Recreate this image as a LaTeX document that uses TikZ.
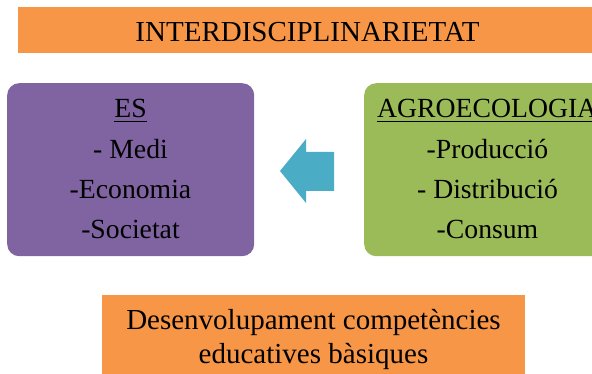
\documentclass[tikz,border=0pt]{standalone}
\usepackage{fontspec}
\setmainfont{Liberation Serif}
\definecolor{orng}{HTML}{F79646}
\definecolor{purp}{HTML}{8064A2}
\definecolor{grn}{HTML}{9BBB59}
\definecolor{blu}{HTML}{4BACC6}
\begin{document}
\begin{tikzpicture}[x=1pt,y=-1pt,
  txt/.style={inner sep=0pt, anchor=base, font=\fontsize{27.7}{33}\selectfont},
  big/.style={inner sep=0pt, anchor=base, font=\fontsize{29}{34}\selectfont},
  panel/.style={draw=none, inner sep=0pt, anchor=north west},
  uline/.style={line width=1.6pt, black}
]
\useasboundingbox (0,0) rectangle (592,374);
\clip (0,0) rectangle (592,374);
% boxes
\node[panel, fill=orng, minimum width=590pt, minimum height=46pt] (topbar) at (18,7) {};
\node[panel, fill=purp, rounded corners=12pt, minimum width=247pt, minimum height=173pt] (es) at (7,83) {};
\node[panel, fill=grn, rounded corners=12pt, minimum width=247pt, minimum height=173pt] (agro) at (364,83) {};
\node[panel, fill=orng, minimum width=423pt, minimum height=90pt] (bottom) at (102,295) {};
% arrow
\coordinate (tip) at (280,171);
\fill[blu] (tip) -- (306,139) -- (306,152) -- (334,152) -- (334,191) -- (306,191) -- (306,203) -- cycle;
% title
\node[big] (title) at (307.5,41.7) {INTERDISCIPLINARIETAT};
% ES text
\node[txt] (estitle) at (130.5,118) {ES};
\draw[uline] ([yshift=-3.6pt]estitle.base west) -- ([yshift=-3.6pt]estitle.base east);
\node[txt] (medi) at (130.5,159) {- Medi};
\node[txt] (econ) at (130.5,199) {-Economia};
\node[txt] (soc) at (130.5,239) {-Societat};
% AGRO text
\node[txt, anchor=base west] (agtitle) at (377,118) {AGROECOLOGIA};
\draw[uline] ([yshift=-3.6pt]agtitle.base west) -- ([yshift=-3.6pt]agtitle.base east);
\node[txt] (prod) at (487.5,159) {-Producció};
\node[txt] (dist) at (487.5,199) {- Distribució};
\node[txt] (cons) at (487.5,239) {-Consum};
% bottom text
\node[big] (des1) at (313.5,329) {Desenvolupament competències};
\node[big] (des2) at (313.5,363) {educatives bàsiques};
\end{tikzpicture}
\end{document}
